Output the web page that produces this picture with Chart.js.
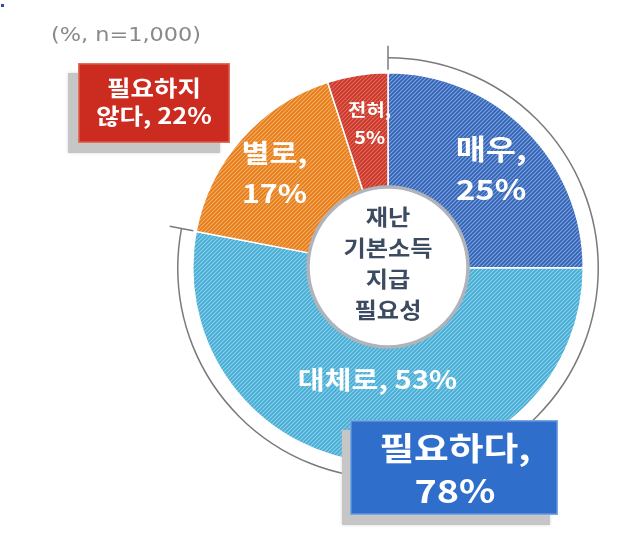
<!DOCTYPE html>
<html>
<head>
<meta charset="utf-8">
<script src="https://cdn.jsdelivr.net/npm/chart.js@4/dist/chart.umd.min.js"></script>
<style>
  html, body { margin: 0; padding: 0; background: #fff; }
  #wrap { width: 640px; height: 544px; }
</style>
</head>
<body>
<div id="wrap"><canvas id="c" width="640" height="544"></canvas></div>
<script>
// ---- data ----
const categories = ["매우", "대체로", "별로", "전혀"];
const values = [25, 53, 17, 5];
const groupNames = ["필요하다", "필요하지 않다"];
const groupValues = [78, 22];
const centerLines = ["재난", "기본소득", "지급", "필요성"];
const noteText = "(%, n=1,000)";

// ---- styles ----
const FONT = '"Noto Sans CJK KR", "Noto Sans", sans-serif';
const baseColors = ["#3463b6", "#47abd3", "#e67d1c", "#c8372a"];
const stripeColors = ["rgba(150,185,235,0.75)", "rgba(160,222,245,0.75)", "rgba(252,190,120,0.75)", "rgba(240,130,115,0.7)"];

function hatch(base, stripe) {
  const n = 4;
  const c = document.createElement("canvas");
  c.width = n; c.height = n;
  const g = c.getContext("2d");
  g.fillStyle = base; g.fillRect(0, 0, n, n);
  g.strokeStyle = stripe; g.lineWidth = 1.1;
  g.beginPath();
  g.moveTo(0, n); g.lineTo(n, 0);
  g.moveTo(-1, 1); g.lineTo(1, -1);
  g.moveTo(n - 1, n + 1); g.lineTo(n + 1, n - 1);
  g.stroke();
  return g.createPattern(c, "repeat");
}
const fills = baseColors.map((b, i) => hatch(b, stripeColors[i]));

// per-segment label layout (radius in px from centre, font size, lines)
const segLabelCfg = [
  { r: 143, size: 28, lh: 40, dx: 2, dy: 2, lines: v => [categories[0] + ",", v + "%"] },
  { r: 112, size: 25, lh: 30, dx: 0, dy: 0, lines: v => [categories[1] + ", " + v + "%"] },
  { r: 146, size: 26, lh: 40, dx: -4, dy: 2, lines: v => [categories[2] + ",", v + "%"] },
  { r: 143, size: 17, lh: 28, dx: 4, dy: -3, lines: v => [categories[3] + ",", v + "%"] },
];

// wide-ish text like the original artwork
function wtext(ctx, s, x, y, sx) {
  ctx.save();
  ctx.translate(x, y);
  ctx.scale(sx, 1);
  ctx.fillText(s, 0, 0);
  ctx.restore();
}

function shadowBox(ctx, x, y, w, h, fill, border, sdx, sdy) {
  ctx.save();
  ctx.fillStyle = "#c6c6c6";
  ctx.shadowColor = "rgba(190,190,190,0.6)";
  ctx.shadowBlur = 3;
  ctx.fillRect(x + sdx, y + sdy, w, h);
  ctx.restore();
  ctx.fillStyle = fill;
  ctx.fillRect(x, y, w, h);
  ctx.strokeStyle = border; ctx.lineWidth = 1.5;
  ctx.strokeRect(x + 0.75, y + 0.75, w - 1.5, h - 1.5);
}

const decor = {
  id: "decor",
  afterDatasetsDraw(chart) {
    const ctx = chart.ctx;
    const arcs = chart.getDatasetMeta(0).data;
    const cx = arcs[0].x, cy = arcs[0].y, R = arcs[0].outerRadius;
    ctx.save();

    // inner white disc with grey ring
    ctx.beginPath();
    ctx.arc(cx, cy - 1, 80, 0, Math.PI * 2);
    ctx.fillStyle = "#fff"; ctx.fill();
    ctx.lineWidth = 3.5; ctx.strokeStyle = "#b0b4ba"; ctx.stroke();

    ctx.fillStyle = "#3c4b60";
    ctx.font = "bold 22px " + FONT;
    ctx.textAlign = "center"; ctx.textBaseline = "middle";
    centerLines.forEach((t, i) => wtext(ctx, t, cx, cy - 51 + i * 31, 1.1));

    // segment labels
    ctx.fillStyle = "#fff";
    arcs.forEach((a, i) => {
      const cfg = segLabelCfg[i];
      const mid = (a.startAngle + a.endAngle) / 2;
      const x = cx + cfg.r * Math.cos(mid) + cfg.dx;
      const y = cy + cfg.r * Math.sin(mid) + cfg.dy;
      const lines = cfg.lines(values[i]);
      ctx.font = "bold " + cfg.size + "px " + FONT;
      lines.forEach((t, k) => wtext(ctx, t, x, y + (k - (lines.length - 1) / 2) * cfg.lh, 1.17));
    });

    // outer bracket arc for "필요하다"
    const a0 = arcs[0].startAngle, a1 = arcs[1].endAngle, rr = R + 15;
    ctx.strokeStyle = "#7a7a7a"; ctx.lineWidth = 1.5;
    ctx.beginPath(); ctx.arc(cx, cy, rr, a0, a1); ctx.stroke();
    [a0, a1].forEach(a => {
      ctx.beginPath();
      ctx.moveTo(cx + (rr - 12) * Math.cos(a), cy + (rr - 12) * Math.sin(a));
      ctx.lineTo(cx + (rr + 12) * Math.cos(a), cy + (rr + 12) * Math.sin(a));
      ctx.stroke();
    });

    // group boxes
    shadowBox(ctx, 78, 63, 152, 80, "#cc2b1f", "#e0705f", -10, 10);
    ctx.fillStyle = "#fff";
    ctx.font = "bold 22px " + FONT;
    const notParts = groupNames[1].split(" ");
    wtext(ctx, notParts[0], 154, 88, 1.16);
    wtext(ctx, notParts[1] + ", " + groupValues[1] + "%", 154, 116, 1.16);

    shadowBox(ctx, 350, 420, 208, 95, "#2f6fcb", "#7aa6e4", -8, 10);
    ctx.fillStyle = "#fff";
    ctx.font = "bold 32px " + FONT;
    wtext(ctx, groupNames[0] + ",", 455, 448, 1.18);
    wtext(ctx, groupValues[0] + "%", 455, 491, 1.18);

    // note
    ctx.fillStyle = "#8a8a8a";
    ctx.font = '20px "DejaVu Sans", sans-serif';
    ctx.textAlign = "left";
    wtext(ctx, noteText, 51, 36, 1.12);

    ctx.fillStyle = "#2f4e9a";
    ctx.fillRect(1, 4, 3, 3);
    ctx.restore();
  }
};

new Chart(document.getElementById("c"), {
  type: "doughnut",
  data: {
    labels: categories,
    datasets: [{
      data: values,
      backgroundColor: fills,
      borderColor: "#ffffff",
      borderWidth: 1.5,
    }]
  },
  options: {
    responsive: false,
    animation: false,
    cutout: "40%",
    layout: { padding: { left: 192, right: 56, top: 71, bottom: 79 } },
    plugins: { legend: { display: false }, tooltip: { enabled: false } }
  },
  plugins: [decor]
});
</script>
</body>
</html>
